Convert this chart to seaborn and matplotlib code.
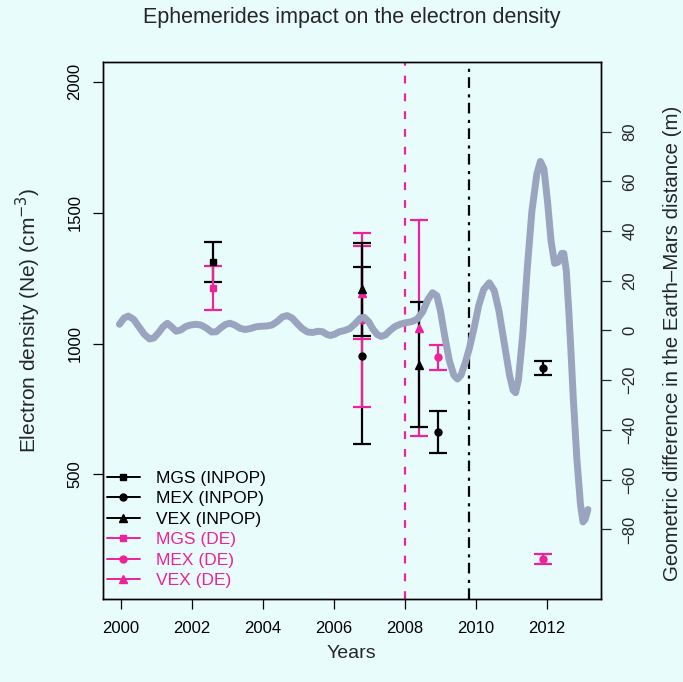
import matplotlib
matplotlib.use("Agg")
import matplotlib.pyplot as plt
import seaborn as sns
import pandas as pd
from matplotlib.lines import Line2D

# colours
bg = "#E8FCFC"
pink = "#EE2299"
grey = "#9AA4BE"

# electron density estimates (cm^-3), value and half error bar
mgs_inpop_x = [2002.59]
mgs_inpop_y = [1312]
mgs_inpop_err = [75]
mgs_de_x = [2002.59]
mgs_de_y = [1213]
mgs_de_err = [83]

mex_inpop_x = [2006.80, 2008.92, 2011.89]
mex_inpop_y = [954, 662, 906]
mex_inpop_err = [337, 79, 27]
mex_de_x = [2006.80, 2008.92, 2011.89]
mex_de_y = [1090, 948, 177]
mex_de_err = [331, 48, 18]

vex_inpop_x = [2006.80, 2008.41]
vex_inpop_y = [1207, 920]
vex_inpop_err = [177, 237]
vex_de_x = [2006.80, 2008.41]
vex_de_y = [1195, 1059]
vex_de_err = [178, 414]

# Earth-Mars distance difference between ephemerides (m)
curve_year = [1999.95, 2000.08, 2000.20, 2000.35, 2000.50, 2000.65, 2000.80, 2000.92,
              2001.05, 2001.18, 2001.30, 2001.42, 2001.55, 2001.68, 2001.82, 2001.95,
              2002.10, 2002.25, 2002.40, 2002.55, 2002.68, 2002.82, 2002.95, 2003.07,
              2003.20, 2003.35, 2003.50, 2003.65, 2003.80, 2003.95, 2004.10, 2004.25,
              2004.40, 2004.55, 2004.68, 2004.82, 2004.95, 2005.10, 2005.25, 2005.40,
              2005.55, 2005.68, 2005.80, 2005.90, 2006.02, 2006.15, 2006.30, 2006.45,
              2006.60, 2006.75, 2006.85, 2006.98, 2007.10, 2007.22, 2007.33, 2007.45,
              2007.58, 2007.72, 2007.88, 2008.05, 2008.20, 2008.35, 2008.50, 2008.65,
              2008.78, 2008.90, 2009.00, 2009.12, 2009.25, 2009.38, 2009.48, 2009.58,
              2009.70, 2009.82, 2009.95, 2010.08, 2010.22, 2010.38, 2010.52, 2010.65,
              2010.80, 2010.95, 2011.05, 2011.12, 2011.20, 2011.32, 2011.45, 2011.58,
              2011.72, 2011.82, 2011.92, 2012.02, 2012.12, 2012.22, 2012.32, 2012.42,
              2012.48, 2012.55, 2012.62, 2012.68, 2012.75, 2012.85, 2012.95, 2013.02,
              2013.08, 2013.16]
curve_diff = [2.5, 5.0, 5.8, 4.5, 1.5, -1.5, -3.4, -3.0,
              -1.0, 1.5, 2.9, 1.5, -0.3, 0.2, 1.6, 2.2,
              2.5, 2.2, 1.0, -0.6, -0.5, 1.2, 2.5, 2.9,
              2.2, 0.9, 0.4, 0.8, 1.5, 1.7, 1.8, 2.2,
              3.6, 5.5, 6.0, 5.0, 3.0, 0.8, -0.6, -0.8,
              -0.3, -0.5, -1.6, -2.0, -1.5, -0.5, 0.0, 0.8,
              2.8, 5.0, 5.3, 3.5, 0.5, -1.6, -2.4, -1.8,
              0.0, 1.6, 2.6, 3.2, 3.6, 4.6, 7.5, 12.5,
              15.2, 14.0, 8.0, -2.0, -12.0, -18.0, -19.5, -18.0,
              -13.0, -7.0, 1.0, 10.0, 16.5, 19.2, 16.0, 8.0,
              -5.0, -18.0, -24.0, -25.0, -20.0, -2.0, 25.0, 48.0,
              63.0, 68.0, 65.0, 52.0, 36.0, 27.0, 27.5, 31.0,
              31.0, 24.0, 8.0, -8.0, -28.0, -52.0, -70.0, -77.0,
              -76.0, -72.0]

x_ticks = [2000, 2002, 2004, 2006, 2008, 2010, 2012]
left_ticks = [500, 1000, 1500, 2000]
right_ticks = [-80, -60, -40, -20, 0, 20, 40, 60, 80]

sns.set_theme(style="ticks")
plt.rcParams["font.family"] = ["Liberation Sans", "DejaVu Sans"]
plt.rcParams["axes.linewidth"] = 1.0

fig = plt.figure(figsize=(6.83, 6.82), dpi=100)
fig.patch.set_facecolor(bg)
ax = fig.add_axes([0.1504, 0.1217, 0.7291, 0.7874])
ax.set_facecolor(bg)
ax2 = ax.twinx()

# error bars on the left axis
series = [
    (mgs_inpop_x, mgs_inpop_y, mgs_inpop_err, "black", "s"),
    (mgs_de_x, mgs_de_y, mgs_de_err, pink, "s"),
    (mex_inpop_x, mex_inpop_y, mex_inpop_err, "black", "o"),
    (mex_de_x, mex_de_y, mex_de_err, pink, "o"),
    (vex_de_x, vex_de_y, vex_de_err, pink, "^"),
    (vex_inpop_x, vex_inpop_y, vex_inpop_err, "black", "^"),
]
for xs, ys, es, col, mk in series:
    ax.errorbar(xs, ys, yerr=es, fmt=mk, color=col, ms=6 if mk == "^" else 5,
                elinewidth=1.6, capsize=6.8, capthick=1.6)

ax.axvline(2008.0, color=pink, lw=1.6, dashes=(3.5, 4.5))
ax.axvline(2009.8, color="black", lw=1.6, dashes=(4.8, 2.4, 1.4, 2.9))

# grey curve on the right axis, drawn over the bars
curve = pd.DataFrame({"year": curve_year, "diff": curve_diff})
sns.lineplot(data=curve, x="year", y="diff", ax=ax2, color=grey, lw=5,
             solid_capstyle="round", solid_joinstyle="round")

ax.set_xlim(1999.48, 2013.52)
ax.set_ylim(24, 2076)
ax2.set_ylim(-108, 108)

ax.set_xticks(x_ticks)
ax.set_yticks(left_ticks)
ax2.set_yticks(right_ticks)
ax.tick_params(axis="both", length=7.5, width=0.9, labelsize=12, colors="black")
ax.tick_params(axis="x", pad=8)
ax.tick_params(axis="y", pad=7)
ax2.tick_params(axis="y", length=7.5, width=0.9, labelsize=12, pad=8)
for lab in ax.get_yticklabels():
    lab.set_rotation(90)
    lab.set_va("center")
for lab in ax2.get_yticklabels():
    lab.set_rotation(90)
    lab.set_va("center")
for a in (ax, ax2):
    for s in a.spines.values():
        s.set_visible(True)
        s.set_color("black")

ax.set_xlabel("")
ax.set_ylabel("")
ax2.set_ylabel("")
fig.text(28 / 683, 0.53, "Electron density (Ne) (cm$^{-3}$)", fontsize=15,
         rotation=90, ha="center", va="center")
fig.text(672 / 683, 0.497, "Geometric difference in the Earth\u2013Mars distance (m)",
         fontsize=14.8, rotation=90, ha="center", va="center")
fig.text(0.515, 1 - 653 / 682, "Years", fontsize=14, ha="center", va="center")
fig.text(0.515, 1 - 18 / 682, "Ephemerides impact on the electron density",
         fontsize=15.5, ha="center", va="center")

handles = [
    Line2D([], [], color="black", marker="s", ms=5, lw=1.4),
    Line2D([], [], color="black", marker="o", ms=5, lw=1.4),
    Line2D([], [], color="black", marker="^", ms=6, lw=1.4),
    Line2D([], [], color=pink, marker="s", ms=5, lw=1.4),
    Line2D([], [], color=pink, marker="o", ms=5, lw=1.4),
    Line2D([], [], color=pink, marker="^", ms=6, lw=1.4),
]
labels = ["MGS (INPOP)", "MEX (INPOP)", "VEX (INPOP)", "MGS (DE)", "MEX (DE)", "VEX (DE)"]
leg = ax.legend(handles, labels, loc="lower left", bbox_to_anchor=(0.008, 0.02),
                frameon=False, fontsize=12.5, handlelength=1.9, handletextpad=0.95,
                labelspacing=0.31, borderpad=0, borderaxespad=0)
for txt, col in zip(leg.get_texts(), ["black"] * 3 + [pink] * 3):
    txt.set_color(col)

fig.savefig("out.png", dpi=100, facecolor=bg)
